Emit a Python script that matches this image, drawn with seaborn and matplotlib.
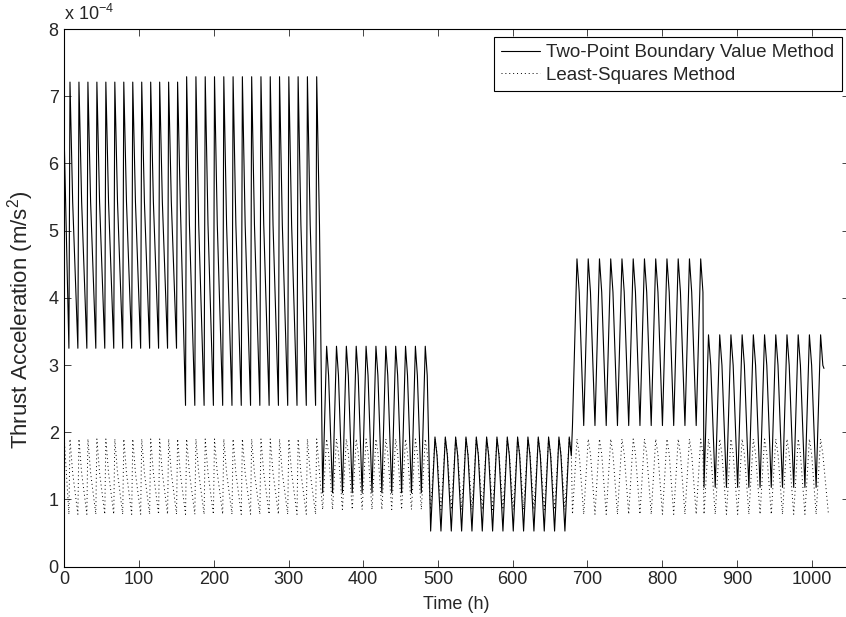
import numpy as np
import pandas as pd
import matplotlib
matplotlib.use("Agg")
import matplotlib.pyplot as plt
import seaborn as sns

# thrust acceleration, values in units of 1e-4 m/s^2, time in h
# one entry per constant-amplitude segment
seg_end = [159, 339, 488, 678, 853, 1016]
seg_first_peak = [7.6, 163.7, 351, 496, 686, 862]
seg_period = [12.0, 12.43, 13.2, 13.82, 15.05, 15.0]

# Two-Point Boundary Value Method
tpbv_peak = [7.21, 7.29, 3.28, 1.93, 4.58, 3.45]
tpbv_trough = [3.25, 2.40, 1.10, 0.53, 2.10, 1.18]
tpbv_first = 6.3
tpbv_last = 2.95

# Least-Squares Method
ls_peak = [1.90, 1.90, 1.90, 1.90, 1.90, 1.90]
ls_trough = [0.78, 0.78, 0.85, 0.85, 0.78, 0.78]
ls_first = 1.9

# cycle shape per segment: rise time (fraction of period) and shoulder on the way down
seg_rise = [0.12, 0.12, 0.4, 0.42, 0.4, 0.4]
shoulder_phase = [0.3, 0.3, 0.2, 0.2, 0.2, 0.2]
shoulder_level = [0.55, 0.55, 0.8, 0.8, 0.8, 0.8]


def build_curve(peaks, troughs, first, last=None):
    t, v = [0.0], [first]
    for i in range(len(seg_end)):
        tp = seg_first_peak[i]
        p = seg_period[i]
        amp = peaks[i] - troughs[i]
        while tp <= seg_end[i]:
            t += [tp - seg_rise[i] * p, tp, tp + shoulder_phase[i] * p]
            v += [troughs[i], peaks[i], troughs[i] + shoulder_level[i] * amp]
            tp += p
    if last is not None:
        t.append(t[-1] + 0.1 * seg_period[-1])
        v.append(last)
    else:
        t.append(t[-1] + 0.5 * seg_period[-1])
        v.append(troughs[-1])
    return pd.DataFrame({"Time": t, "Accel": v})


tpbv = build_curve(tpbv_peak, tpbv_trough, tpbv_first, tpbv_last)
ls = build_curve(ls_peak, ls_trough, ls_first)

sns.set_style("ticks")
plt.rcParams["font.family"] = ["Liberation Sans", "DejaVu Sans"]
plt.rcParams["mathtext.default"] = "regular"

fig = plt.figure(figsize=(8.46, 6.17), dpi=100)
ax = fig.add_axes([64.3 / 846, 1 - 566.7 / 617, (849 - 64.3) / 846, (566.7 - 29) / 617])

sns.lineplot(data=tpbv, x="Time", y="Accel", ax=ax, color="black", linewidth=0.8,
             sort=False, estimator=None, label="Two-Point Boundary Value Method")
sns.lineplot(data=ls, x="Time", y="Accel", ax=ax, color="black", linewidth=0.7,
             linestyle=(0, (1, 3)), sort=False, estimator=None, label="Least-Squares Method")

ax.set_xlim(0, 1050)
ax.set_ylim(0, 8)
ax.set_xticks(range(0, 1001, 100))
ax.set_yticks(range(0, 9))
ax.tick_params(direction="in", length=5, width=0.6, labelsize=13, top=True, right=True)
ax.tick_params(axis="y", pad=4)
ax.tick_params(axis="x", pad=3)
for s in ax.spines.values():
    s.set_linewidth(0.8)
    s.set_color("black")

ax.set_xlabel("Time (h)", fontsize=13, labelpad=6)
ax.set_ylabel("Thrust Acceleration (m/s$^2$)", fontsize=16)
ax.yaxis.set_label_coords(-0.036, 0.46)
fig.text(64 / 846, 1 - 24 / 617, "x 10$^{-4}$", fontsize=13, ha="left", va="bottom")

leg = ax.legend(loc="upper right", fontsize=13.5, frameon=True, fancybox=False,
                edgecolor="black", framealpha=1, handlelength=2.1, handletextpad=0.3,
                borderaxespad=0.4, borderpad=0.4, labelspacing=0.3)
leg.get_frame().set_linewidth(0.8)

fig.savefig("out.png", dpi=100)
